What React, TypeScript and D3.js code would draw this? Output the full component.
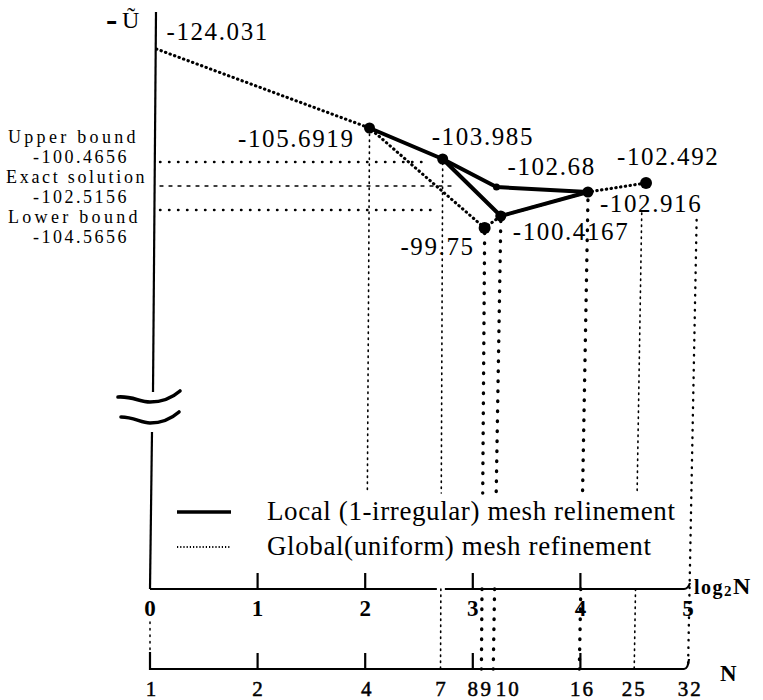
import React from "react";
import * as d3 from "d3";

// ---------------- data ----------------
// labelled solution values and where they sit (log2 N, height on the schematic -U axis)
const pointValues = ["-124.031", "-105.6919", "-103.985", "-102.68", "-100.4167", "-99.75", "-102.916", "-102.492"];
const pointLog2N = [0.06, 2.04, 2.72, 3.22, 3.26, 3.11, 4.07, 4.61];
const pointLevel = [54.0, 46.1, 43.0, 40.2, 37.3, 36.1, 39.7, 40.6];
const pointMarked = [false, true, true, true, true, true, true, true];

// series as sequences of point indices
const localPaths = [[1, 2, 3, 6], [2, 4, 6]];
const globalPath = [0, 1, 5, 4, 6, 7];

// reference values
const boundNames = ["Upper bound", "Exact solution", "Lower bound"];
const boundValues = ["-100.4656", "-102.5156", "-104.5656"];
const boundLevel = [42.7, 40.3, 37.9];
const boundEndLog2N = [2.6, 2.85, 2.63];

// axes
const log2Ticks = [0, 1, 2, 3, 4, 5];
const log2TickMarks = [1, 2, 3, 4];
const nTickLabels = ["1", "2", "4", "7", "8", "9", "10", "16", "25", "32"];
const nTickLabelPos = [0.01, 1, 2.01, 2.7, 3.0, 3.12, 3.33, 4.02, 4.5, 5.02];
const nTickMarks = [1, 2, 3, 4];
const nAxisLevel = -8;

// vertical guide lines from the points down to the axes
const guideN = ["4", "7", "9", "10", "16", "25", "32"];
const guideTopLog2N = [2.04, 2.72, 3.11, 3.26, 4.07, 4.57, 5.08];
const guideBottomLog2N = [2.02, 2.7, 3.08, 3.19, 3.99, 4.5, 5.0];
const guideTopLevel = [45.5, 42.6, 35.6, 36.8, 38.9, 37.6, 36.9];
const guideBottomLevel = [9.6, -8, -8, -8, -8, -8, -8];
const guideKind = ["fine", "fine", "bold", "bold", "bold", "fine", "mid"];

const legendItems = ["Local (1-irregular) mesh relinement", "Global(uniform) mesh refinement"];

// ---------------- layout ----------------
const FONT = "'Liberation Serif', 'Times New Roman', serif";
const labelOffsets: [number, number, string][] = [
  [10, -9, "start"],
  [-15, 19, "end"],
  [-11, -14, "start"],
  [11, -12, "start"],
  [12, 24, "start"],
  [-10, 27, "end"],
  [12, 20, "start"],
  [-29, -18, "start"],
];
const markerR = [0, 5.5, 5.5, 3.5, 5.5, 6, 5.5, 6];
const LEGEND_GAP: [number, number] = [9.6, 0]; // guides pause across the legend block

export default function App() {
  const x = d3.scaleLinear().domain([0, 5]).range([150, 688]);
  const y = d3.scaleLinear().domain([0, 57]).range([589, 19]);
  const line = d3
    .line<number>()
    .x((i) => x(pointLog2N[i]))
    .y((i) => y(pointLevel[i]));

  const axisY = y(0);
  const nAxisY = y(nAxisLevel);
  const guideStyle: Record<string, { w: number; dash: string }> = {
    fine: { w: 1.6, dash: "1.4 4.6" },
    bold: { w: 3.4, dash: "0.5 9.5" },
    mid: { w: 2.4, dash: "0.5 7" },
  };

  // guide segments (interrupted by the legend except the outermost one)
  const guideSegs: { key: string; x1: number; y1: number; x2: number; y2: number; kind: string }[] = [];
  guideN.forEach((n, i) => {
    const t0 = guideTopLevel[i], t1 = guideBottomLevel[i];
    const lx = d3.scaleLinear().domain([t0, t1]).range([guideTopLog2N[i], guideBottomLog2N[i]]);
    const kind = guideKind[i];
    if (kind === "mid" || t1 >= LEGEND_GAP[0]) {
      guideSegs.push({ key: n, x1: x(lx(t0)), y1: y(t0), x2: x(lx(t1)), y2: y(t1), kind });
    } else {
      guideSegs.push({ key: n + "a", x1: x(lx(t0)), y1: y(t0), x2: x(lx(LEGEND_GAP[0])), y2: y(LEGEND_GAP[0]), kind });
      guideSegs.push({ key: n + "b", x1: x(lx(LEGEND_GAP[1])), y1: y(LEGEND_GAP[1]), x2: x(lx(t1)), y2: y(t1), kind });
    }
  });
  // where the N=7 guide crosses the log2N axis (the axis is drawn with a small gap there)
  const g7 = guideN.indexOf("7");
  const cross7 = x(
    d3.scaleLinear().domain([guideTopLevel[g7], guideBottomLevel[g7]]).range([guideTopLog2N[g7], guideBottomLog2N[g7]])(0)
  );

  return (
    <svg
      width={763}
      height={700}
      style={{ position: "absolute", left: 0, top: 0, background: "#fff" }}
      fontFamily={FONT}
    >
      <rect x={0} y={0} width={763} height={700} fill="#fff" />

      {/* y axis with break */}
      <line x1={156} y1={12} x2={153} y2={392} stroke="#000" strokeWidth={2.2} />
      <line x1={152} y1={432} x2={150} y2={axisY} stroke="#000" strokeWidth={2.2} />
      <path d="M118,397 C132,396 140,402 150,402 C162,402 172,398 180,391" fill="none" stroke="#000" strokeWidth={3.6} strokeLinecap="round" />
      <path d="M121,417 C134,417 141,423 150,423 C161,423 171,419 179,412" fill="none" stroke="#000" strokeWidth={3.6} strokeLinecap="round" />

      {/* title */}
      <text x={106} y={31} fontSize={34} fontWeight="bold">-</text>
      <text x={122} y={28} fontSize={24}>Ũ</text>

      {/* bound reference lines */}
      {boundLevel.map((lv, i) => (
        <line
          key={"b" + i}
          x1={x(0) + 10}
          x2={x(boundEndLog2N[i])}
          y1={y(lv)}
          y2={y(lv)}
          stroke="#000"
          strokeWidth={i === 1 ? 1.3 : 2.4}
          strokeDasharray={i === 1 ? "3 6" : "0.5 8.5"}
          strokeLinecap="round"
        />
      ))}
      {boundNames.map((nm, i) => (
        <g key={"bl" + i}>
          <text x={i === 1 ? 6 : 8} y={143 + i * 40} fontSize={18} letterSpacing={i === 1 ? 2.7 : 3.3}>
            {nm}
          </text>
          <text x={33} y={163 + i * 40} fontSize={18} letterSpacing={2.5}>
            {boundValues[i]}
          </text>
        </g>
      ))}

      {/* guides */}
      {guideSegs.map((s) => {
        const st = guideStyle[s.kind];
        return (
          <line
            key={"g" + s.key}
            x1={s.x1}
            y1={s.y1}
            x2={s.x2}
            y2={s.y2}
            stroke="#000"
            strokeWidth={st.w}
            strokeDasharray={st.dash}
            strokeLinecap="round"
          />
        );
      })}
      {/* short dotted link under the 0 label */}
      <line x1={x(0)} x2={x(0)} y1={axisY + 33} y2={nAxisY - 19} stroke="#000" strokeWidth={1.5} strokeDasharray="1.5 5" strokeLinecap="round" />

      {/* global (uniform) refinement: dotted */}
      <path
        d={line(globalPath) || ""}
        fill="none"
        stroke="#000"
        strokeWidth={3.1}
        strokeDasharray="0.4 4.4"
        strokeLinecap="round"
        strokeLinejoin="round"
      />
      {/* local refinement: solid */}
      {localPaths.map((p, i) => (
        <path key={"l" + i} d={line(p) || ""} fill="none" stroke="#000" strokeWidth={4} strokeLinejoin="round" />
      ))}

      {/* markers */}
      {pointValues.map((v, i) =>
        pointMarked[i] ? (
          <circle key={"m" + i} cx={x(pointLog2N[i])} cy={y(pointLevel[i])} r={markerR[i]} fill="#000" />
        ) : null
      )}

      {/* value labels */}
      {pointValues.map((v, i) => (
        <text
          key={"t" + i}
          x={x(pointLog2N[i]) + labelOffsets[i][0]}
          y={y(pointLevel[i]) + labelOffsets[i][1]}
          fontSize={25}
          letterSpacing={1.6}
          textAnchor={labelOffsets[i][2] as any}
        >
          {v}
        </text>
      ))}

      {/* legend */}
      <line x1={177} x2={231} y1={512} y2={512} stroke="#000" strokeWidth={3.4} />
      <line x1={177} x2={231} y1={547} y2={547} stroke="#000" strokeWidth={2} strokeDasharray="1.2 2" />
      {legendItems.map((t, i) => (
        <text key={"lg" + i} x={267} y={520 + i * 35} fontSize={27} letterSpacing={0.6}>
          {t}
        </text>
      ))}

      {/* log2N axis */}
      <path
        d={`M${x(0)},${axisY} L${cross7 - 4},${axisY} M${cross7 + 4},${axisY} L${x(5) - 4},${axisY} Q${x(5)},${axisY} ${x(5) + 2},${axisY - 6}`}
        fill="none"
        stroke="#000"
        strokeWidth={2.2}
      />
      {log2TickMarks.map((t) => (
        <line key={"lt" + t} x1={x(t)} x2={x(t)} y1={axisY} y2={axisY - 16} stroke="#000" strokeWidth={2.2} />
      ))}
      {log2Ticks.map((t) => (
        <text key={"ll" + t} x={x(t)} y={axisY + 27} fontSize={23} fontWeight="bold" textAnchor="middle">
          {t}
        </text>
      ))}
      <text x={694} y={594} fontSize={20} fontWeight="bold" letterSpacing={1.5}>
        log<tspan fontSize={15} dy={2}>2</tspan>
        <tspan fontSize={24} dy={-2}>N</tspan>
      </text>

      {/* N axis */}
      <path
        d={`M${x(0)},${nAxisY - 17} L${x(0)},${nAxisY} L${x(5) - 4},${nAxisY} Q${x(5)},${nAxisY} ${x(5) + 1},${nAxisY - 10}`}
        fill="none"
        stroke="#000"
        strokeWidth={2.2}
      />
      {nTickMarks.map((t) => (
        <line key={"nt" + t} x1={x(t)} x2={x(t)} y1={nAxisY} y2={nAxisY - 16} stroke="#000" strokeWidth={2.2} />
      ))}
      {nTickLabels.map((t, i) => (
        <text
          key={"nl" + t}
          x={x(nTickLabelPos[i])}
          y={nAxisY + 27}
          fontSize={21}
          textAnchor="middle"
          letterSpacing={t.length > 1 ? 2 : 0}
          stroke="#000"
          strokeWidth={0.5}
        >
          {t}
        </text>
      ))}
      <text x={720} y={681} fontSize={23} fontWeight="bold">N</text>
    </svg>
  );
}
